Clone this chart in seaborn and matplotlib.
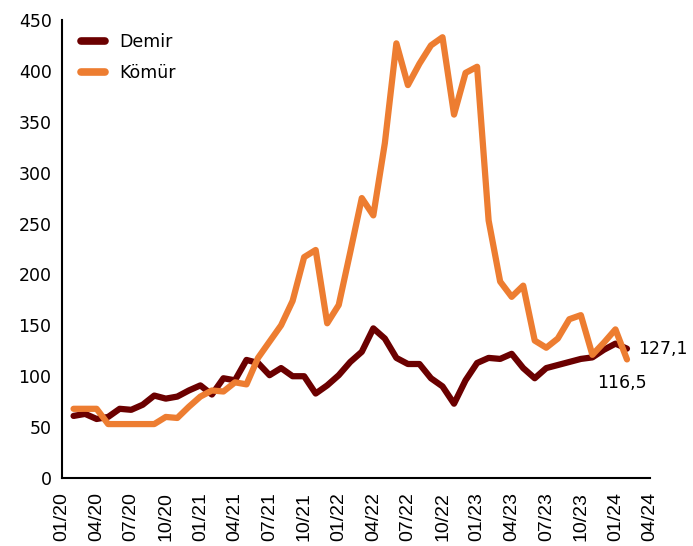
"""
Demir ve kömür fiyat endeksi, aylık (02/20 - 02/24).
"""
import pandas as pd
import numpy as np
import matplotlib
matplotlib.use('Agg')
import matplotlib.pyplot as plt
import seaborn as sns

# aylar 02/20 .. 02/24
months = pd.date_range('2020-02-01', '2024-02-01', freq='MS')

demir = [61, 63, 58, 60, 68, 67, 72, 81, 78, 80, 86,
         91, 82, 98, 96, 116, 113, 101, 108, 100, 100, 83, 91,
         101, 114, 124, 147, 137, 118, 112, 112, 98, 90, 73, 96,
         113, 118, 117, 122, 108, 98, 108, 111, 114, 117, 118.5, 126,
         132, 127.1]

komur = [68, 68, 68, 53, 53, 53, 53, 53, 60, 59, 70,
         80, 86, 85, 94, 92, 118, 134, 150, 174, 217, 224, 152,
         170, 222, 275, 258, 329, 427, 386, 407, 425, 433, 357, 398,
         404, 253, 193, 178, 189, 135, 128, 137, 156, 160, 121, 133,
         146, 116.5]

tick_labels = ['01/20', '04/20', '07/20', '10/20', '01/21', '04/21', '07/21',
               '10/21', '01/22', '04/22', '07/22', '10/22', '01/23', '04/23',
               '07/23', '10/23', '01/24', '04/24']

colors = {'Demir': '#6B0000', 'Kömür': '#ED7D31'}

# month index from jan 2020
idx = (months.year - 2020) * 12 + months.month - 1
df = pd.concat([
    pd.DataFrame({'ay': idx, 'deger': demir, 'seri': 'Demir'}),
    pd.DataFrame({'ay': idx, 'deger': komur, 'seri': 'Kömür'}),
])

sns.set_style('white')
plt.rcParams['font.family'] = ['DejaVu Sans']
plt.rcParams['text.color'] = 'black'
plt.rcParams['xtick.color'] = 'black'
plt.rcParams['ytick.color'] = 'black'
plt.rcParams['xtick.labelcolor'] = 'black'
plt.rcParams['ytick.labelcolor'] = 'black'

fig = plt.figure(figsize=(6.93, 5.46), dpi=100)
ax = fig.add_axes([0.0895, 0.1245, 0.8485, 0.839])

sns.lineplot(data=df, x='ay', y='deger', hue='seri', palette=colors,
             linewidth=4.5, ax=ax, sort=False)

ax.set_xlim(0, 51)
ax.set_ylim(0, 450)
ax.set_yticks(np.arange(0, 451, 50))
ax.set_xticks(np.arange(0, 52, 3))
ax.set_xticklabels(tick_labels, rotation=90, family='Liberation Sans', fontsize=14)
ax.tick_params(axis='y', labelsize=12.5, direction='inout', length=8, width=1.2)
ax.tick_params(axis='x', direction='out', length=6, width=1.2, pad=4)
ax.set_xlabel('')
ax.set_ylabel('')

sns.despine(ax=ax)
for s in ['left', 'bottom']:
    ax.spines[s].set_color('black')
    ax.spines[s].set_linewidth(1.5)

# son değerler
ax.text(idx[-1] + 1.0, demir[-1], f"{demir[-1]:.1f}".replace('.', ','),
        fontsize=12.5, va='center', ha='left')
ax.text(idx[-1] - 2.6, komur[-1] - 23, f"{komur[-1]:.1f}".replace('.', ','),
        fontsize=12.5, va='center', ha='left')

leg = ax.legend(loc='upper left', frameon=False, fontsize=12.5,
                handlelength=1.4, bbox_to_anchor=(0.005, 1.005), labelspacing=0.75)
for line in leg.get_lines():
    line.set_linewidth(5.5)

fig.savefig('out.png', dpi=100)
